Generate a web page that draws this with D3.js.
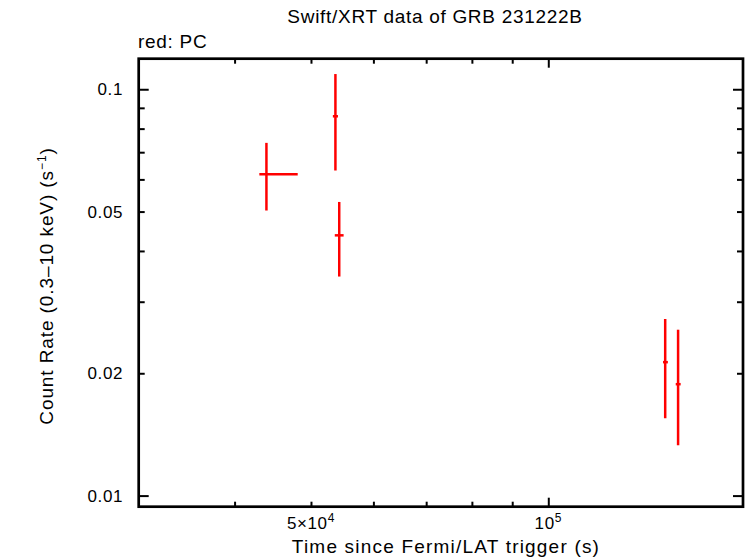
<!DOCTYPE html>
<html>
<head>
<meta charset="utf-8">
<script src="https://cdn.jsdelivr.net/npm/d3@7"></script>
<style>
  body { margin: 0; background: #fff; }
  svg { display: block; font-family: "Liberation Sans", Arial, Helvetica, sans-serif; }
  .axis path { display: none; }
  .axis line { stroke: #000; stroke-width: 2; }
</style>
</head>
<body>
<div id="chart"></div>
<script>
// light curve points: time (s) and count rate (s^-1) with error ranges
var times   = [43900, 53700, 54300, 140700, 146100];
var timeLo  = [43000, 53300, 53600, 139800, 145100];
var timeHi  = [48100, 54100, 55000, 141800, 147200];
var rates   = [0.0618, 0.0858, 0.0437, 0.0213, 0.0188];
var rateLo  = [0.0503, 0.0631, 0.0346, 0.0155, 0.0133];
var rateHi  = [0.0738, 0.109, 0.0528, 0.0272, 0.0256];

var xMinorTicks = [40000, 50000, 60000, 70000, 80000, 90000];
var xMajorTicks = [100000];
var yMinorTicks = [0.02, 0.03, 0.04, 0.05, 0.06, 0.07, 0.08, 0.09];
var yMajorTicks = [0.01, 0.1];
var xLabels = [{v: 50000, base: '5\u00d710', exp: '4'}, {v: 100000, base: '10', exp: '5'}];
var yLabels = [0.01, 0.02, 0.05, 0.1];

(function() {
    var width = 746,
        height = 558,
        pl = 138.7,
        pr = 743,
        pt = 58.7,
        pb = 506.7;

    var svg = d3.select('#chart').append('svg')
        .attr('width', width)
        .attr('height', height);

    var x = d3.scaleLog().domain([30230, 176600]).range([pl, pr]);
    var y = d3.scaleLog().domain([0.00939, 0.1189]).range([pb, pt]);

    // ticks, drawn inward on all four sides
    function ticks(axisFn, scale, vals, len, tx) {
        svg.append('g')
            .attr('class', 'axis')
            .attr('transform', tx)
            .call(axisFn(scale).tickValues(vals).tickSize(len).tickFormat(''));
    }
    ticks(d3.axisBottom, x, xMinorTicks, -5, 'translate(0,' + pb + ')');
    ticks(d3.axisBottom, x, xMajorTicks, -9, 'translate(0,' + pb + ')');
    ticks(d3.axisTop, x, xMinorTicks, -5, 'translate(0,' + pt + ')');
    ticks(d3.axisTop, x, xMajorTicks, -9, 'translate(0,' + pt + ')');
    ticks(d3.axisLeft, y, yMinorTicks, -6, 'translate(' + pl + ',0)');
    ticks(d3.axisLeft, y, yMajorTicks, -10, 'translate(' + pl + ',0)');
    ticks(d3.axisRight, y, yMinorTicks, -6, 'translate(' + pr + ',0)');
    ticks(d3.axisRight, y, yMajorTicks, -10, 'translate(' + pr + ',0)');

    // frame
    svg.append('rect')
        .attr('x', pl)
        .attr('y', pt)
        .attr('width', pr - pl)
        .attr('height', pb - pt)
        .attr('fill', 'none')
        .attr('stroke', '#000')
        .attr('stroke-width', 2.7);

    // tick labels
    svg.selectAll('.ylab').data(yLabels).enter().append('text')
        .attr('class', 'ylab')
        .attr('x', 123)
        .attr('y', function(d) { return y(d); })
        .attr('dy', '0.36em')
        .attr('text-anchor', 'end')
        .attr('font-size', 17)
        .attr('letter-spacing', 0.6)
        .text(function(d) { return d; });

    var xl = svg.selectAll('.xlab').data(xLabels).enter().append('text')
        .attr('class', 'xlab')
        .attr('x', function(d) { return x(d.v); })
        .attr('y', 529)
        .attr('text-anchor', 'middle')
        .attr('font-size', 17)
        .attr('letter-spacing', 0.6);
    xl.append('tspan').text(function(d) { return d.base; });
    xl.append('tspan')
        .attr('dy', -7)
        .attr('font-size', 12)
        .text(function(d) { return d.exp; });

    // error bars
    var pts = svg.append('g').selectAll('g').data(times).enter().append('g');
    pts.append('line')
        .attr('x1', function(d, i) { return x(times[i]); })
        .attr('x2', function(d, i) { return x(times[i]); })
        .attr('y1', function(d, i) { return y(rateLo[i]); })
        .attr('y2', function(d, i) { return y(rateHi[i]); })
        .attr('stroke', '#ff0000')
        .attr('stroke-width', 2.5);
    pts.append('line')
        .attr('x1', function(d, i) { return x(timeLo[i]); })
        .attr('x2', function(d, i) { return x(timeHi[i]); })
        .attr('y1', function(d, i) { return y(rates[i]); })
        .attr('y2', function(d, i) { return y(rates[i]); })
        .attr('stroke', '#ff0000')
        .attr('stroke-width', 2.5);

    // titles
    svg.append('text')
        .attr('x', 435)
        .attr('y', 23)
        .attr('text-anchor', 'middle')
        .attr('font-size', 19)
        .attr('letter-spacing', 0.7)
        .text('Swift/XRT data of GRB 231222B');

    svg.append('text')
        .attr('x', 138)
        .attr('y', 48)
        .attr('font-size', 19)
        .attr('letter-spacing', 0.7)
        .text('red: PC');

    svg.append('text')
        .attr('x', 446)
        .attr('y', 553)
        .attr('text-anchor', 'middle')
        .attr('font-size', 19)
        .attr('letter-spacing', 1.2)
        .text('Time since Fermi/LAT trigger (s)');

    var yt = svg.append('text')
        .attr('transform', 'translate(53,286) rotate(-90)')
        .attr('text-anchor', 'middle')
        .attr('font-size', 19)
        .attr('letter-spacing', 0.9)
        .text('Count Rate (0.3\u201310 keV) (s');
    yt.append('tspan')
        .attr('dy', -7)
        .attr('font-size', 12)
        .text('\u22121');
    yt.append('tspan')
        .attr('dy', 7)
        .text(')');
})();
</script>
</body>
</html>
